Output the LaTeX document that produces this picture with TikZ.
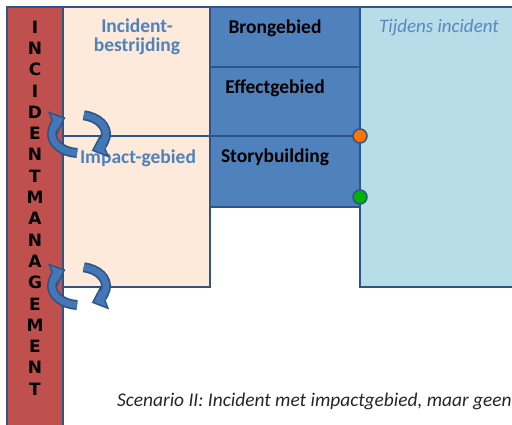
\documentclass[tikz,border=0pt]{standalone}
\usepackage{fontspec}
\setmainfont{Carlito}
\newfontfamily\barfont{DejaVu Sans}[BoldFont={DejaVu Sans Bold}]
\usetikzlibrary{arrows.meta}

\definecolor{rimblue}{HTML}{2F5487}
\definecolor{barred}{HTML}{C0504D}
\definecolor{peach}{HTML}{FDEADA}
\definecolor{midblue}{HTML}{4F81BD}
\definecolor{paleblue}{HTML}{B7DDE8}
\definecolor{arrowblue}{HTML}{4477B5}
\definecolor{tagblue}{HTML}{5B87C0}

\begin{document}
\begin{tikzpicture}[x=1pt, y=1pt,
    rim/.style={draw=rimblue, line width=2.2pt},
    letter/.style={font=\barfont\bfseries\fontsize{17}{17}\selectfont, inner sep=0pt},
    title/.style={font=\bfseries\fontsize{19.5}{18.5}\selectfont, text=midblue, align=center, inner sep=0pt},
    field/.style={font=\bfseries\fontsize{19.5}{19}\selectfont, inner sep=0pt},
    cycrim/.style={draw=rimblue, line width=10pt, -{Triangle[width=24pt, length=14pt]}},
    cycarrow/.style={draw=arrowblue, line width=6.5pt, shorten >=2.5pt, -{Triangle[width=17pt, length=10pt]}},
    dot/.style={circle, draw=rimblue, line width=1.5pt, minimum size=14pt, inner sep=0pt}]
    \useasboundingbox (0,0) rectangle (512,424);

    % columns
    \fill[paleblue] (360,137) rectangle (514,417);
    \draw[rim] (514,137) -- (360,137) -- (360,417);
    \fill[midblue] (210,217) rectangle (360,417);
    \draw[rim] (210,217) rectangle (360,417);
    \draw[rim] (210,357) -- (360,357);
    \draw[rim] (210,288) -- (360,288);
    \fill[peach] (63,137) rectangle (210,417);
    \draw[rim] (63,137) -- (210,137) -- (210,417);
    \draw[rim] (60,288) -- (210,288);
    \fill[barred] (7,-5) rectangle (63,417);
    \draw[rim] (7,-5) -- (7,417) -- (63,417) -- (63,-5);
    \draw[rim] (7,417) -- (514,417);

    % letters of the bar
    \foreach \l [count=\i from 0] in {I,N,C,I,D,E,N,T,M,A,N,A,G,E,M,E,N,T}
        \node[letter] (l\i) at (35,{397-21.3*\i}) {\l};

    \node[title] (bestr) at (137,387) {Incident-\\bestrijding};
    \node[title] (impact) at (138,266) {Impact-gebied};
    \node[field] (bron) at (275,396) {Brongebied};
    \node[field] (effect) at (275,336) {Effectgebied};
    \node[field] (story) at (275,267) {Storybuilding};
    \node[font=\itshape\fontsize{19}{19}\selectfont, text=tagblue, inner sep=0pt] (tijdens) at (439,396) {Tijdens incident};

    \node[dot, fill=orange!90!red] (oranje) at (360,288) {};
    \node[dot, fill=green!70!black] (groen) at (360,227) {};

    % cycles
    \foreach \cy [count=\k] in {290,138} {
        \coordinate (c\k) at (79,\cy);
        \foreach \s in {cycrim,cycarrow} {
            \draw[\s] (c\k) ++(266:27 and 19) arc[start angle=266, end angle=120, x radius=27, y radius=19];
            \draw[\s] (c\k) ++(80:27 and 19) arc[start angle=80, end angle=-62, x radius=27, y radius=19];
        }
    }

    \node[anchor=west, font=\itshape\fontsize{19.4}{19}\selectfont, text=black!85, inner sep=0pt] (caption) at (117,23)
        {Scenario II: Incident met impactgebied, maar geen};
\end{tikzpicture}
\end{document}
